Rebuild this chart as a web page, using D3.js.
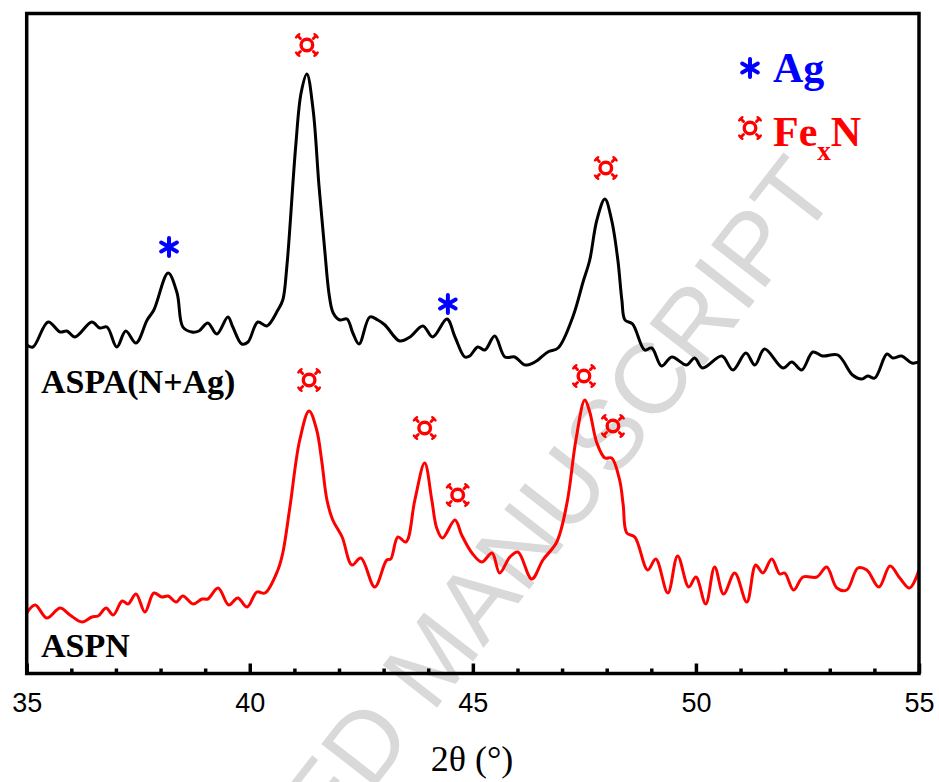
<!DOCTYPE html>
<html>
<head>
<meta charset="utf-8">
<script src="https://cdn.jsdelivr.net/npm/d3@7"></script>
<style>
  html, body { margin: 0; padding: 0; background: #fff; }
  svg { display: block; }
</style>
</head>
<body>
<svg id="chart" width="939" height="782"></svg>
<script>
// ---- Data (2θ in degrees, intensity in a.u., offset patterns) ----
const aspaTheta = [35.0,35.14,35.48,35.75,35.90,36.08,36.46,36.64,36.80,37.02,37.22,37.45,37.70,37.85,38.17,38.37,38.50,38.70,38.86,39.06,39.26,39.51,39.62,39.82,39.96,40.18,40.38,40.63,40.74,40.83,41.03,41.15,41.28,41.42,41.55,41.68,41.78,41.87,42.02,42.18,42.31,42.45,42.69,42.87,43.03,43.36,43.59,43.88,44.10,44.42,44.60,44.82,44.93,45.11,45.27,45.49,45.72,45.94,46.17,46.39,46.68,46.91,47.24,47.47,47.62,47.78,47.96,48.11,48.25,48.34,48.41,48.58,48.85,49.01,49.23,49.46,49.79,49.97,50.15,50.58,50.83,51.12,51.32,51.54,51.95,52.15,52.37,52.62,52.84,53.18,53.51,53.72,53.85,54.01,54.28,54.41,54.61,54.84,55.0];
const aspaInt = [328,326,351,341,342,336,351,345,346,326,342,330,353,363,400,380,346,341,342,350,339,356,346,329,331,351,347,363,373,406,527,580,599,563,488,423,378,360,353,354,340,329,356,353,348,332,336,347,336,354,336,316,317,326,323,337,316,316,308,311,321,325,356,391,413,453,474,453,413,373,353,349,323,325,307,316,308,315,305,317,303,320,308,324,305,311,303,321,317,318,298,294,297,295,319,315,317,310,311];

const aspnTheta = [35.0,35.19,35.45,35.75,35.97,36.24,36.46,36.60,36.78,36.94,37.14,37.27,37.45,37.65,37.85,38.03,38.17,38.35,38.50,38.73,38.93,39.06,39.29,39.53,39.73,39.94,40.16,40.34,40.63,40.74,40.90,41.12,41.33,41.50,41.61,41.73,41.86,42.07,42.29,42.49,42.80,43.07,43.16,43.32,43.50,43.70,43.92,44.08,44.19,44.32,44.60,44.75,44.98,45.20,45.43,45.60,45.83,46.01,46.32,46.57,46.88,47.11,47.31,47.51,47.62,47.78,47.96,48.11,48.29,48.37,48.45,48.63,48.92,49.10,49.37,49.59,49.84,50.0,50.22,50.42,50.62,50.87,51.14,51.34,51.50,51.70,51.88,51.99,52.19,52.40,52.71,52.93,53.16,53.38,53.63,53.83,54.10,54.35,54.57,54.79,55.0];
const aspnInt = [60,68,55,65,58,51,56,57,65,58,72,69,79,61,80,76,77,71,77,69,74,74,85,68,75,66,81,80,103,120,166,233,262,243,213,173,153,136,108,115,86,113,114,136,131,173,210,173,145,135,153,138,120,111,120,100,116,121,94,113,131,170,233,273,261,230,215,215,193,168,140,136,103,114,80,117,86,96,69,106,79,100,71,108,100,114,99,100,83,96,96,106,85,83,105,103,86,107,95,85,103];

// Phase markers [2θ, intensity]
const fexnMarks = [[41.28,628],[47.98,505],[41.33,293],[43.92,245],[44.66,178],[47.49,297],[48.14,247]];
const agMarks = [[38.19,426],[44.44,369]];

const majorTicks = [35,40,45,50,55];
const minorTicks = [36,37,38,39,41,42,43,44,46,47,48,49,51,52,53,54];

const seriesLabels = ["ASPA(N+Ag)", "ASPN"];
const xTitle = "2θ (°)";
const watermark = "ACCEPTED MANUSCRIPT";

// ---- Layout ----
const svg = d3.select("#chart");
const X0 = 26.7, X1 = 919, Y0 = 673.5, Y1 = 13.5;
const x = d3.scaleLinear().domain([35,55]).range([X0, X1]);
const y = d3.scaleLinear().domain([0,660]).range([673, 13]);

svg.append("rect").attr("width",939).attr("height",782).attr("fill","#fff");

// watermark
svg.append("text")
  .attr("transform","translate(839,193) rotate(-52)")
  .attr("text-anchor","end")
  .attr("font-family","'Liberation Sans', Arial, sans-serif")
  .attr("font-size",100)
  .attr("fill","#d9d9d9")
  .text(watermark);

// curves
const line = d3.line().curve(d3.curveCatmullRom.alpha(0.5))
  .x(d => x(d[0])).y(d => y(d[1]));
const aspa = aspaTheta.map((t,i) => [t, aspaInt[i]]);
const aspn = aspnTheta.map((t,i) => [t, aspnInt[i]]);

svg.append("clipPath").attr("id","clip").append("rect")
  .attr("x",X0).attr("y",Y1).attr("width",X1-X0).attr("height",Y0-Y1);

svg.append("path").datum(aspn).attr("d",line)
  .attr("fill","none").attr("stroke","#ff0000").attr("stroke-width",3)
  .attr("stroke-linejoin","round").attr("clip-path","url(#clip)");
svg.append("path").datum(aspa).attr("d",line)
  .attr("fill","none").attr("stroke","#000").attr("stroke-width",3)
  .attr("stroke-linejoin","round").attr("clip-path","url(#clip)");

// ¤ marker
function currency(g, cx, cy, color) {
  const m = g.append("g").attr("transform",`translate(${cx},${cy})`)
    .attr("stroke",color).attr("fill","none").attr("stroke-linecap","round");
  m.append("circle").attr("r",5.8).attr("stroke-width",3.4);
  [[1,1],[1,-1],[-1,1],[-1,-1]].forEach(([sx,sy]) => {
    const a = 6.5, b = 9.2, c = 1.6;
    m.append("line").attr("x1",sx*a).attr("y1",sy*a).attr("x2",sx*b).attr("y2",sy*b).attr("stroke-width",3);
    m.append("line").attr("x1",sx*b - sx*c).attr("y1",sy*b + sy*c)
      .attr("x2",sx*b + sx*c).attr("y2",sy*b - sy*c).attr("stroke-width",2.4);
  });
}
function asterisk(g, cx, cy) {
  g.append("path").attr("transform",`translate(${cx},${cy})`)
    .attr("d", d3.symbol(d3.symbolAsterisk, 230)())
    .attr("stroke","#0000ff").attr("stroke-width",4).attr("stroke-linecap","round").attr("fill","none");
}
const mk = svg.append("g");
fexnMarks.forEach(d => currency(mk, x(d[0]), y(d[1]), "#ff0000"));
agMarks.forEach(d => asterisk(mk, x(d[0]), y(d[1])));

// legend
asterisk(mk, 750, 68);
currency(mk, 750, 128, "#ff0000");
const serif = "'Liberation Serif', 'Times New Roman', serif";
svg.append("text").attr("x",773).attr("y",82).attr("font-family",serif)
  .attr("font-weight","bold").attr("font-size",42).attr("fill","#0000ff").text("Ag");
const fe = svg.append("text").attr("x",773).attr("y",146).attr("font-family",serif)
  .attr("font-weight","bold").attr("font-size",42).attr("fill","#ff0000");
fe.append("tspan").text("Fe");
fe.append("tspan").attr("font-size",27).attr("dy",14).text("x");
fe.append("tspan").attr("dy",-14).text("N");

// series labels
svg.append("text").attr("x",41).attr("y",393).attr("font-family",serif)
  .attr("font-weight","bold").attr("font-size",34).attr("fill","#000").text(seriesLabels[0]);
svg.append("text").attr("x",41).attr("y",657).attr("font-family",serif)
  .attr("font-weight","bold").attr("font-size",34).attr("fill","#000").text(seriesLabels[1]);

// axes
const axMajor = d3.axisBottom(x).tickValues(majorTicks).tickSize(-10).tickPadding(24).tickFormat(d3.format("d"));
const axMinor = d3.axisBottom(x).tickValues(minorTicks).tickSize(-5).tickFormat("");
const gA = svg.append("g").attr("transform",`translate(0,${Y0})`);
gA.call(axMajor);
gA.append("g").call(axMinor);
gA.selectAll(".domain").remove();
gA.selectAll("line").attr("stroke","#000").attr("stroke-width",3.5);
gA.selectAll("text").attr("font-family","'Liberation Sans', Arial, sans-serif")
  .attr("font-size",27).attr("fill","#000").attr("dy",0).attr("y",38.5);

// frame
svg.append("rect").attr("x",X0).attr("y",Y1).attr("width",X1-X0).attr("height",Y0-Y1)
  .attr("fill","none").attr("stroke","#000").attr("stroke-width",3.5);

// axis title
svg.append("text").attr("x",472).attr("y",771).attr("text-anchor","middle")
  .attr("font-family",serif).attr("font-size",36).attr("fill","#000").text(xTitle);
</script>
</body>
</html>
